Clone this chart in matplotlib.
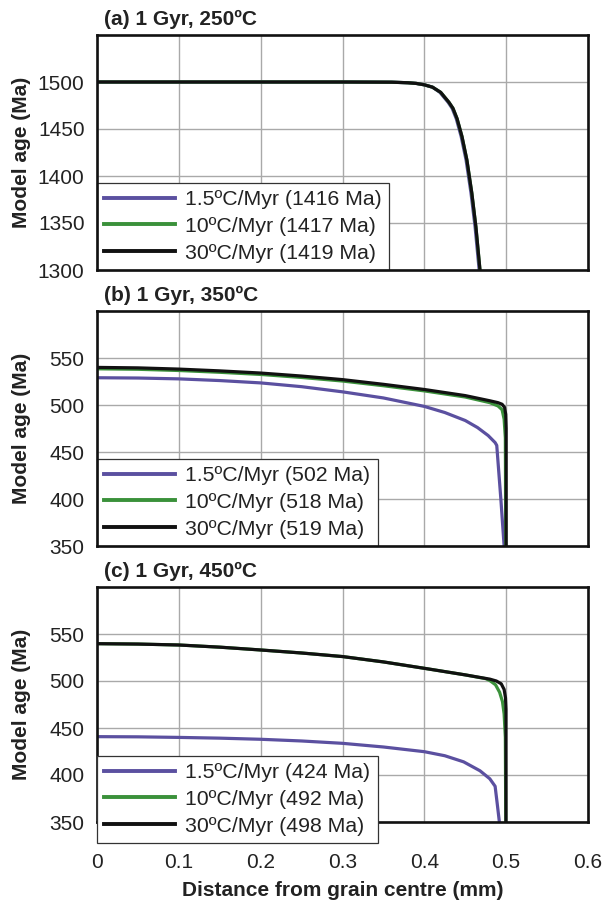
import matplotlib
matplotlib.use("Agg")
import matplotlib.pyplot as plt

plt.rcParams['font.family'] = ['Liberation Sans', 'DejaVu Sans']

# ---------------- data ----------------
rates = ["1.5ºC/Myr", "10ºC/Myr", "30ºC/Myr"]
colors = ["#5b50a0", "#3a913a", "#111111"]

titles = ["(a) 1 Gyr, 250ºC", "(b) 1 Gyr, 350ºC", "(c) 1 Gyr, 450ºC"]
bulk_ages = [[1416, 1417, 1419], [502, 518, 519], [424, 492, 498]]

# panel (a)
a_x_15 = [0, 0.30, 0.36, 0.38, 0.39, 0.40, 0.41, 0.419, 0.429, 0.434, 0.439, 0.445, 0.451, 0.457, 0.462, 0.467]
a_y_15 = [1500, 1500, 1499.8, 1499.2, 1498.5, 1497, 1494.5, 1489, 1478.5, 1472, 1461, 1442, 1417, 1382, 1346, 1300]
a_x_10 = [0, 0.30, 0.36, 0.38, 0.39, 0.40, 0.41, 0.42, 0.43, 0.435, 0.44, 0.446, 0.452, 0.458, 0.463, 0.468]
a_y_10 = [1500, 1500, 1499.8, 1499.2, 1498.5, 1497, 1494.5, 1489, 1478.5, 1472, 1461, 1442, 1417, 1382, 1346, 1300]
a_x_30 = [0, 0.30, 0.36, 0.38, 0.39, 0.40, 0.41, 0.42, 0.43, 0.435, 0.44, 0.446, 0.452, 0.458, 0.463, 0.468]
a_y_30 = [1500, 1500, 1499.8, 1499.2, 1498.5, 1497, 1494.5, 1489, 1478.5, 1472, 1461, 1442, 1417, 1382, 1346, 1300]

# panel (b)
b_x_15 = [0, 0.05, 0.1, 0.15, 0.2, 0.25, 0.3, 0.35, 0.4, 0.425, 0.45, 0.465, 0.478, 0.4865, 0.4885, 0.4935, 0.4975]
b_y_15 = [529, 528.7, 527.8, 526, 523.5, 519.5, 514, 507.5, 498.5, 492, 483.5, 476, 467.5, 460, 457, 400, 350]
b_x_10 = [0, 0.05, 0.1, 0.15, 0.2, 0.25, 0.3, 0.35, 0.4, 0.45, 0.48, 0.49, 0.495, 0.4975, 0.499, 0.4995]
b_y_10 = [538.5, 538, 536.7, 534.8, 532.5, 529.3, 525.5, 520.5, 515, 508.5, 502.5, 499, 495, 485, 465, 350]
b_x_30 = [0, 0.05, 0.1, 0.15, 0.2, 0.25, 0.3, 0.35, 0.4, 0.45, 0.48, 0.49, 0.495, 0.498, 0.4995, 0.5, 0.5]
b_y_30 = [540, 539.5, 538.2, 536.3, 534, 530.8, 527, 522, 516.5, 510, 504.5, 502.5, 500.8, 497.5, 490, 475, 350]

# panel (c)
c_x_15 = [0, 0.05, 0.1, 0.15, 0.2, 0.25, 0.3, 0.35, 0.4, 0.425, 0.448, 0.468, 0.48, 0.4865, 0.489, 0.4917]
c_y_15 = [440.8, 440.6, 440, 439.2, 438, 436.2, 433.7, 429.8, 424.8, 420.5, 414, 404.5, 396, 388, 370, 350]
c_x_10 = [0, 0.05, 0.1, 0.15, 0.2, 0.25, 0.3, 0.35, 0.4, 0.45, 0.475, 0.48, 0.487, 0.492, 0.4955, 0.4975, 0.499, 0.4995]
c_y_10 = [539.7, 539.3, 538.3, 536, 533, 529.8, 526, 520.3, 513.5, 506.5, 502.5, 500.5, 496, 488, 478, 465, 440, 350]
c_x_30 = [0, 0.05, 0.1, 0.15, 0.2, 0.25, 0.3, 0.35, 0.4, 0.45, 0.48, 0.488, 0.494, 0.4975, 0.4992, 0.4998, 0.4998]
c_y_30 = [539.7, 539.3, 538.3, 536, 533, 529.8, 526, 520.3, 513.5, 506.5, 502, 500, 497, 491, 482, 470, 350]

panels_x = [[a_x_15, a_x_10, a_x_30], [b_x_15, b_x_10, b_x_30], [c_x_15, c_x_10, c_x_30]]
panels_y = [[a_y_15, a_y_10, a_y_30], [b_y_15, b_y_10, b_y_30], [c_y_15, c_y_10, c_y_30]]

y_limits = [(1300, 1550), (350, 600), (350, 600)]
y_ticks = [[1300, 1350, 1400, 1450, 1500], [350, 400, 450, 500, 550], [350, 400, 450, 500, 550]]
x_ticks = [0, 0.1, 0.2, 0.3, 0.4, 0.5, 0.6]
x_tick_labels = ["0", "0.1", "0.2", "0.3", "0.4", "0.5", "0.6"]

# ---------------- figure ----------------
W, H = 609, 905
fig = plt.figure(figsize=(W / 100, H / 100), dpi=100)

left_px, right_px = 97, 588
tops_px = [35, 311, 587]
height_px = 235
FS = 15

for i in range(3):
    top = tops_px[i]
    ax = fig.add_axes([left_px / W, 1 - (top + height_px) / H,
                       (right_px - left_px) / W, height_px / H])
    for j in range(3):
        ax.plot(panels_x[i][j], panels_y[i][j], color=colors[j], lw=2.3,
                label=f"{rates[j]} ({bulk_ages[i][j]} Ma)", solid_joinstyle='round')
    ax.set_xlim(0, 0.6)
    ax.set_ylim(*y_limits[i])
    ax.set_xticks(x_ticks)
    ax.set_yticks(y_ticks[i])
    ax.set_axisbelow(True)
    ax.grid(True, color="#a9a9a9", lw=1.0)
    ax.tick_params(length=0, labelsize=FS, colors="#222222")
    ax.tick_params(axis='y', pad=9)
    if i == 2:
        ax.set_xticklabels(x_tick_labels)
        ax.tick_params(axis='x', pad=22)
        ax.set_xlabel("Distance from grain centre (mm)", fontsize=FS,
                      fontweight='bold', color="#222222", va='center')
        ax.xaxis.set_label_coords(0.5, -(890 - 822) / 235)
    else:
        ax.set_xticklabels([])
    ax.set_ylabel("Model age (Ma)", fontsize=FS, fontweight='bold', color="#222222",
                  va='center')
    ax.yaxis.set_label_coords(-(97 - 22) / 491, 0.5)
    for s in ax.spines.values():
        s.set_linewidth(1.9)
        s.set_color("#111111")
    ax.text(0.014, 1 + 16 / 235, titles[i], transform=ax.transAxes,
            fontsize=FS, fontweight='bold', va='center', ha='left', color="#222222")

    anchor_y = 0 if i < 2 else -(843 - 822) / 235
    leg = ax.legend(loc='lower left', bbox_to_anchor=(0, anchor_y), fontsize=15.3,
                    frameon=True, fancybox=False, framealpha=1, edgecolor="#333333",
                    handlelength=3.3, handletextpad=0.5, labelspacing=0.36,
                    borderpad=0.35, borderaxespad=0)
    leg.get_frame().set_linewidth(0.9)
    for t in leg.get_texts():
        t.set_color("#222222")
    for lh in leg.get_lines():
        lh.set_linewidth(2.8)
    if i < 2:
        leg.set_zorder(2.2)

fig.savefig("out.png", dpi=100)
